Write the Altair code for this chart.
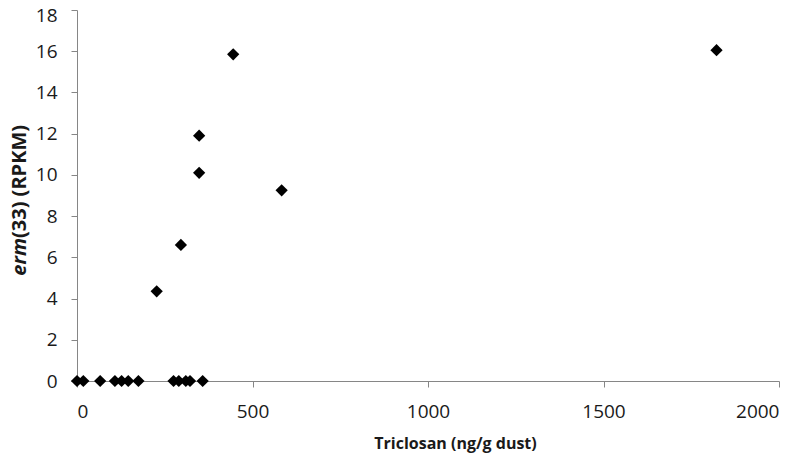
import altair as alt
import pandas as pd

# data
triclosan = [0, 18, 66, 108, 127, 146, 175, 275, 290, 310, 322, 358,
             227, 296, 348, 348, 445, 583, 1822]
erm33 = [0, 0, 0, 0, 0, 0, 0, 0, 0, 0, 0, 0,
         4.35, 6.6, 10.1, 11.9, 15.85, 9.25, 16.05]

x_ticks = [0, 500, 1000, 1500, 2000]
y_ticks = [0, 2, 4, 6, 8, 10, 12, 14, 16, 18]

df = pd.DataFrame({"x": triclosan, "y": erm33})

FONT = "Open Sans"
AX = "#868686"
TXT = "#1a1a1a"

points = alt.Chart(df).mark_point(
    shape="diamond", filled=True, color="black", opacity=1, size=150
).encode(
    x=alt.X("x:Q", scale=alt.Scale(domain=[0, 2000], nice=False),
            axis=alt.Axis(values=x_ticks, format="d", title="Triclosan (ng/g dust)",
                          grid=False, domainColor=AX, tickColor=AX,
                          tickSize=6, labelFontSize=19, labelFont=FONT,
                          labelColor=TXT, labelPadding=15,
                          titleFont=FONT, titleFontSize=16, titleFontWeight="bold",
                          titleColor=TXT, titlePadding=14,
                          titleX=378, titleAlign="center")),
    y=alt.Y("y:Q", scale=alt.Scale(domain=[0, 18], nice=False),
            axis=alt.Axis(values=y_ticks, title=None, grid=False,
                          domainColor=AX, tickColor=AX, tickSize=6,
                          labelFontSize=19, labelFont=FONT, labelColor=TXT,
                          labelPadding=14,
                          labelOffset={"condition": {"test": "datum.value == 18", "value": 5},
                                       "value": 0})),
)

title_a = alt.Chart(pd.DataFrame({"t": ["erm"]})).mark_text(
    angle=270, align="right", baseline="middle", font=FONT, fontSize=20,
    fontWeight="bold", fontStyle="italic", color=TXT
).encode(x=alt.value(-57), y=alt.value(228), text="t:N")

title_b = alt.Chart(pd.DataFrame({"t": ["(33) (RPKM)"]})).mark_text(
    angle=270, align="left", baseline="middle", font=FONT, fontSize=20,
    fontWeight="bold", color=TXT
).encode(x=alt.value(-57), y=alt.value(228), text="t:N")

chart = alt.layer(points, title_a, title_b).properties(
    width=702, height=371,
    autosize=alt.AutoSizeParams(type="none"),
    padding={"left": 69, "top": 2, "right": 13, "bottom": 75},
).configure_view(stroke=None)

chart.save("out.html", embed_options={"renderer": "svg", "actions": False})
